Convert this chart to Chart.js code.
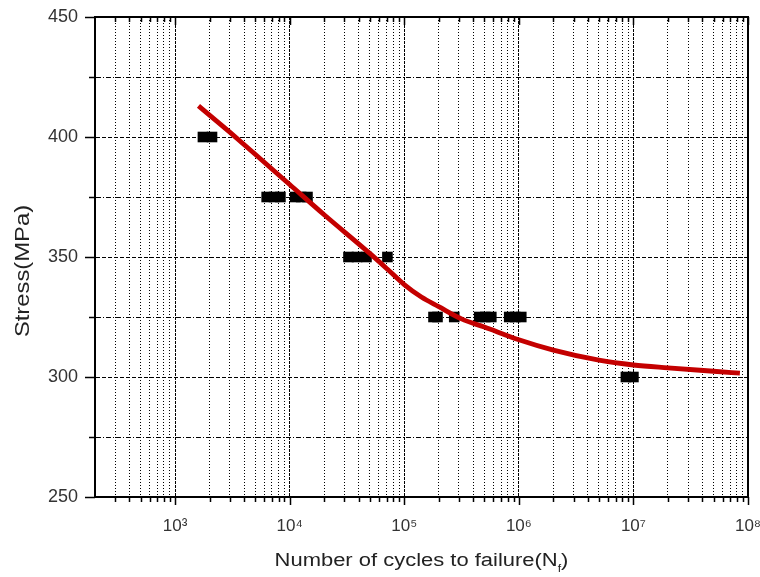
<!DOCTYPE html>
<html>
<head>
<meta charset="utf-8">
<script src="https://cdn.jsdelivr.net/npm/chart.js@4.4.0/dist/chart.umd.min.js"></script>
<style>
  html, body { margin: 0; padding: 0; background: #fff; }
  #wrap { width: 760px; height: 577px; }
</style>
</head>
<body>
<div id="wrap"><canvas id="myChart" width="760" height="577"></canvas></div>
<script>
// test points (cycles to failure, stress)
var testCycles = [1750, 2100, 6300, 7300, 8300, 11200, 12600, 14300, 32600, 38700, 46800, 71300,
                  180000, 195000, 273000, 451000, 510000, 575000, 824000, 930000, 1050000,
                  8600000, 10000000];
var testStress = [400, 400, 375, 375, 375, 375, 375, 375, 350, 350, 350, 350,
                  325, 325, 325, 325, 325, 325, 325, 325, 325,
                  300, 300];

// fitted S-N curve
var fitCycles = [1600, 3000, 5000, 10000, 20000, 50000, 71000, 100000, 141000, 200000,
                 316000, 500000, 1000000, 2000000, 5000000, 10000000, 20000000, 50000000, 85000000];
var fitStress = [413, 402, 392.8, 380.2, 367.6, 351.5, 345, 338.5, 333.3, 329.3,
                 324.2, 320.8, 315.5, 311.2, 307, 305, 303.8, 302.4, 301.6];

var decades = [1e3, 1e4, 1e5, 1e6, 1e7, 1e8];
var decadeLabels = ['10\u00B3', '10\u2074', '10\u2075', '10\u2076', '10\u2077', '10\u2078'];
var minorSteps = [3, 4, 5, 6, 7, 8, 9];   // below 10^3, only 300..900 are in view
var yLabels = [250, 300, 350, 400, 450];

var xTickValues = minorSteps.map(function (m) { return m * 100; });
decades.forEach(function (d) {
  xTickValues.push(d);
  if (d < 1e8) {
    for (var m = 2; m <= 9; m++) xTickValues.push(d * m);
  }
});

var isDecade = function (v) { return decades.indexOf(v) >= 0; };

Chart.defaults.font.family = "'Liberation Sans', Arial, sans-serif";

// frame, tick marks and axis titles
var framePlugin = {
  id: 'framePlugin',
  afterDraw: function (chart) {
    var c = chart.ctx, a = chart.chartArea;
    var xs = chart.scales.x, ys = chart.scales.y;
    c.save();
    c.strokeStyle = '#000';
    c.lineWidth = 2;
    c.beginPath();
    c.moveTo(a.left, a.top); c.lineTo(a.right, a.top); c.lineTo(a.right, a.bottom);
    c.stroke();

    c.lineWidth = 1.5;
    c.beginPath();
    xTickValues.forEach(function (v) {
      var px = Math.round(xs.getPixelForValue(v)) + 0.5;
      var len = isDecade(v) ? 8 : 5;
      c.moveTo(px, a.bottom); c.lineTo(px, a.bottom + len);
      c.moveTo(px, a.top); c.lineTo(px, a.top + len);
    });
    for (var s = 250; s <= 450; s += 25) {
      var py = Math.round(ys.getPixelForValue(s)) + 0.5;
      var l = yLabels.indexOf(s) >= 0 ? 10 : 6;
      c.moveTo(a.left - l, py); c.lineTo(a.left, py);
    }
    c.stroke();

    // x title with subscript
    c.fillStyle = '#222';
    c.textBaseline = 'alphabetic';
    c.translate((a.left + a.right) / 2, 566);
    c.scale(1.22, 1);
    c.font = "18px 'Liberation Sans', Arial, sans-serif";
    var main = 'Number of cycles to failure(N';
    var wMain = c.measureText(main).width;
    var wClose = c.measureText(')').width;
    c.font = "10px 'Liberation Sans', Arial, sans-serif";
    var wSub = c.measureText('f').width;
    var x0 = -(wMain + wSub + wClose) / 2;
    c.font = "18px 'Liberation Sans', Arial, sans-serif";
    c.fillText(main, x0, 0);
    c.fillText(')', x0 + wMain + wSub, 0);
    c.font = "10px 'Liberation Sans', Arial, sans-serif";
    c.fillText('f', x0 + wMain, 6);
    c.restore();

    // y title
    c.save();
    c.fillStyle = '#222';
    c.translate(23, 271);
    c.rotate(-Math.PI / 2);
    c.scale(1.19, 1);
    c.font = "20px 'Liberation Sans', Arial, sans-serif";
    c.textAlign = 'center';
    c.textBaseline = 'middle';
    c.fillText('Stress(MPa)', 0, 0);
    c.restore();
  }
};

var ctx = document.getElementById('myChart');
var myChart = new Chart(ctx, {
  type: 'scatter',
  data: {
    datasets: [{
      label: 'Fit',
      data: fitCycles.map(function (n, i) { return { x: n, y: fitStress[i] }; }),
      showLine: true,
      borderColor: '#c40000',
      borderWidth: 4.8,
      pointRadius: 0,
      cubicInterpolationMode: 'monotone',
      fill: false
    }, {
      label: 'Test',
      data: testCycles.map(function (n, i) { return { x: n, y: testStress[i] }; }),
      pointStyle: 'rect',
      pointRadius: 7.5,
      backgroundColor: '#000',
      borderWidth: 0
    }]
  },
  options: {
    responsive: false,
    animation: false,
    devicePixelRatio: 1,
    layout: { padding: { top: 17, right: 12, left: 0, bottom: 0 } },
    plugins: { legend: { display: false }, tooltip: { enabled: false } },
    scales: {
      x: {
        type: 'logarithmic',
        min: 200,
        max: 1e8,
        afterBuildTicks: function (scale) {
          scale.ticks = xTickValues.map(function (v) { return { value: v }; });
        },
        afterFit: function (scale) {
          scale.height = 80;
          scale.paddingLeft = 0; scale.paddingRight = 0;
          scale.paddingTop = 0; scale.paddingBottom = 0;
        },
        ticks: {
          autoSkip: false,
          maxRotation: 0,
          padding: 19,
          color: '#333',
          font: { size: 17 },
          callback: function (v) {
            var i = decades.indexOf(v);
            return i >= 0 ? decadeLabels[i] : '';
          }
        },
        grid: { color: '#000', lineWidth: 1, drawTicks: false },
        border: {
          color: '#000',
          width: 2,
          dash: function (c) { return c.tick && isDecade(c.tick.value) ? [3, 1] : [1, 2]; }
        }
      },
      y: {
        type: 'linear',
        min: 250,
        max: 450,
        afterFit: function (scale) {
          scale.width = 95;
          scale.paddingLeft = 0; scale.paddingRight = 0;
          scale.paddingTop = 0; scale.paddingBottom = 0;
        },
        ticks: {
          stepSize: 25,
          padding: 17,
          color: '#333',
          font: { size: 18 },
          callback: function (v) { return yLabels.indexOf(v) >= 0 ? String(v) : ''; }
        },
        grid: { color: '#000', lineWidth: 1, drawTicks: false },
        border: {
          color: '#000',
          width: 2,
          dash: function (c) { return c.tick && yLabels.indexOf(c.tick.value) >= 0 ? [4, 2] : [5, 2, 1, 2]; }
        }
      }
    }
  },
  plugins: [framePlugin]
});
</script>
</body>
</html>
